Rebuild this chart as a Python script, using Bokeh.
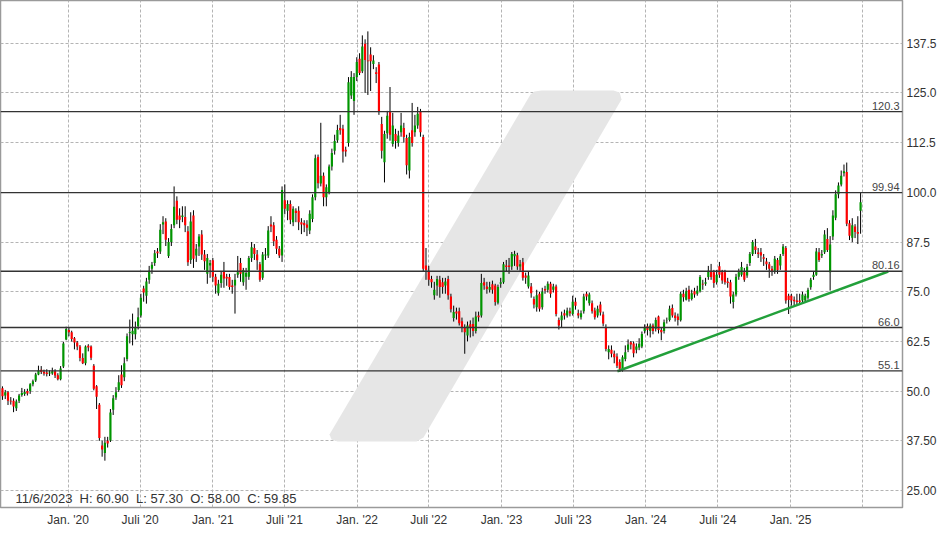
import pandas as pd
import numpy as np
from bokeh.plotting import figure
from bokeh.models import FixedTicker, Span, Label, PolyAnnotation, ColumnDataSource
from bokeh.embed import file_html
from bokeh.resources import INLINE

# ---------------- data (weekly candles) ----------------
first_week = "2019-07-19"

opens = [
    50.7, 48.9, 49.7, 47.6, 47.6, 45.7, 47.6, 49.0, 49.3, 50.0,
    50.0, 51.7, 52.7, 54.2, 55.4, 54.9, 54.7, 54.4, 54.4, 55.0,
    54.0, 53.0, 56.2, 63.0, 65.4, 64.8, 63.3, 62.2, 61.2, 58.3,
    57.0, 61.4, 61.2, 56.4, 51.2, 46.6, 36.3, 34.4, 37.5, 37.6,
    45.3, 48.4, 50.3, 54.2, 53.5, 58.1, 64.6, 64.3, 64.3, 66.3,
    69.0, 75.8, 74.0, 78.0,
    80.8, 82.2, 85.1, 85.1, 91.9, 92.7, 84.0, 87.5, 91.7, 97.9,
    94.2, 93.8, 93.8, 90.2, 83.0, 94.2, 84.1, 86.4, 89.4, 84.4,
    79.5, 81.6, 82.9, 78.8, 74.6, 77.2, 80.2, 78.8, 78.7, 76.6,
    76.6, 79.3, 82.2, 77.4, 78.8, 78.8, 83.5, 86.0, 84.4, 81.9,
    78.5, 84.1, 84.1, 91.9, 91.7, 88.1, 85.8, 84.1, 98.0, 95.4,
    97.1, 92.5, 95.4, 95.4,
    92.5, 92.3, 91.9, 90.4, 93.3, 98.8, 108.9, 102.2, 104.2, 98.8,
    100.1, 106.5, 110.5, 113.1, 116.2, 116.0, 110.7, 112.4, 124.4, 123.0,
    129.0, 133.6, 130.5, 137.4, 133.2, 134.7, 132.3, 130.2, 132.2, 117.2,
    107.6, 114.9, 120.3, 112.2, 114.7, 112.4, 115.1, 116.2, 113.7, 105.5,
    115.6, 115.1, 116.8, 120.2, 113.9, 81.6, 80.3, 78.2, 74.1, 76.6,
    78.0, 77.4, 76.6, 78.2, 73.8,
    68.4, 70.0, 70.1, 67.6, 65.9, 64.0, 66.8, 66.9, 65.1, 69.0,
    69.0, 77.4, 76.3, 75.5, 76.9, 76.6, 72.2, 77.0, 77.4, 81.6,
    81.6, 81.35, 83.9, 84.2, 81.35, 82.4, 79.1, 76.3, 76.3, 73.2,
    71.1, 74.5, 71.1, 75.7, 75.5, 77.0, 75.5, 76.3, 67.9, 67.8,
    69.6, 69.0, 70.1, 69.4, 72.5, 69.6, 68.6, 70.1, 74.5, 72.1,
    72.1, 70.3, 69.0, 71.8, 69.3, 66.1, 59.8,
    60.4, 59.4, 58.7, 57.3, 55.6, 58.1, 60.4, 62.3, 62.0, 60.4,
    61.0, 61.2, 65.1, 66.3, 65.1, 66.5, 65.7, 68.8, 65.4, 65.1,
    67.8, 67.9, 70.9, 69.0, 68.8, 67.8, 74.5, 73.0, 75.5, 73.2,
    75.1, 74.5, 75.1, 77.0, 77.0, 78.7, 80.3, 79.9, 77.4, 81.4,
    79.9, 79.9, 77.6, 77.4, 72.4, 74.3, 78.8, 79.3, 79.9, 79.1,
    82.2, 84.5, 86.4, 84.9,
    84.95, 83.7, 82.6, 81.9, 80.8, 80.3, 83.0, 81.6, 84.5, 86.0,
    74.0, 74.0, 73.0, 72.8, 72.8, 72.8, 72.8, 73.5, 76.1, 78.7,
    79.3, 84.95, 84.1, 84.95, 88.3, 79.9, 88.9, 93.6, 99.5, 102.0,
    104.8, 105.1, 92.2, 88.6, 91.4, 90.0, 95.4,
]

highs = [
    51.2, 50.3, 50.0, 48.5, 48.2, 47.9, 49.3, 50.8, 50.5, 50.6,
    52.0, 52.9, 54.6, 56.4, 56.3, 55.4, 55.5, 55.2, 55.9, 55.5,
    54.5, 56.3, 62.4, 66.2, 66.0, 65.2, 63.6, 62.6, 61.6, 59.5,
    61.5, 61.8, 61.5, 56.8, 51.5, 47.0, 37.5, 38.5, 38.5, 45.5,
    49.0, 51.0, 54.0, 56.5, 58.5, 64.5, 68.0, 69.5, 67.5, 71.0,
    74.5, 76.5, 78.5, 81.5,
    82.5, 85.5, 86.0, 92.0, 94.0, 93.5, 88.5, 92.0, 101.5, 99.0,
    96.0, 96.5, 96.5, 91.5, 95.0, 95.5, 87.0, 89.5, 90.5, 85.5,
    84.5, 83.0, 83.5, 79.5, 78.0, 80.0, 82.5, 79.5, 79.5, 78.0,
    79.5, 84.0, 83.5, 81.0, 81.0, 84.0, 87.5, 87.0, 85.5, 82.5,
    85.0, 86.0, 91.5, 94.0, 92.5, 89.0, 86.5, 101.5, 102.0, 98.0,
    98.0, 96.5, 96.0, 96.5,
    93.5, 93.0, 93.0, 95.5, 99.5, 109.5, 109.5, 117.5, 105.0, 102.0,
    107.0, 111.0, 114.5, 117.0, 119.5, 117.0, 111.5, 129.0, 130.5, 130.0,
    134.0, 135.0, 139.5, 138.5, 140.5, 136.5, 134.5, 131.5, 132.8, 119.0,
    115.5, 120.5, 126.5, 120.0, 116.0, 115.5, 120.0, 117.5, 114.5, 115.0,
    122.5, 119.5, 121.5, 121.0, 114.5, 86.0, 81.5, 79.0, 77.5, 79.0,
    79.0, 78.5, 78.5, 79.0, 74.5,
    71.5, 71.0, 71.0, 68.5, 66.8, 67.5, 67.8, 68.5, 70.0, 70.0,
    79.5, 78.5, 77.5, 77.5, 77.8, 77.0, 76.8, 78.5, 82.5, 83.0,
    83.5, 85.0, 85.3, 84.8, 83.0, 83.5, 79.8, 80.0, 77.2, 73.8,
    75.5, 75.0, 76.0, 76.5, 77.6, 77.5, 77.0, 76.8, 68.5, 70.0,
    70.5, 71.0, 71.0, 74.0, 73.5, 70.5, 70.3, 74.5, 75.0, 74.8,
    72.8, 71.0, 71.5, 72.5, 70.0, 66.8, 61.5,
    61.5, 60.2, 59.5, 58.0, 59.0, 61.5, 63.0, 62.6, 62.5, 62.0,
    63.3, 65.0, 66.8, 67.0, 67.0, 67.0, 68.5, 69.0, 66.0, 68.0,
    68.5, 71.5, 71.8, 69.8, 69.5, 75.0, 75.5, 76.0, 76.5, 75.5,
    76.0, 76.5, 79.2, 78.0, 78.5, 81.5, 82.0, 80.5, 80.5, 82.5,
    80.5, 80.5, 78.5, 78.0, 75.0, 79.5, 80.8, 82.5, 81.0, 82.0,
    85.0, 88.0, 88.3, 86.0,
    86.0, 84.5, 83.5, 82.5, 81.5, 84.0, 83.5, 84.5, 87.0, 86.5,
    74.5, 74.5, 73.8, 74.5, 74.5, 75.0, 74.5, 76.0, 78.5, 80.0,
    86.0, 86.0, 85.5, 90.5, 91.0, 89.0, 95.5, 100.5, 102.5, 105.5,
    107.0, 107.5, 93.0, 93.5, 92.0, 94.0, 100.0,
]

lows = [
    47.8, 48.0, 46.5, 46.6, 44.7, 45.0, 47.0, 48.6, 48.8, 48.9,
    49.3, 51.2, 52.3, 54.0, 54.3, 53.9, 53.7, 53.8, 54.1, 53.3,
    52.7, 52.7, 55.8, 62.8, 63.8, 62.5, 60.5, 60.3, 57.5, 56.8,
    56.5, 60.0, 57.8, 50.2, 45.5, 37.5, 33.5, 32.5, 35.8, 37.2,
    44.0, 47.8, 49.8, 50.8, 52.5, 57.5, 62.0, 61.5, 63.0, 65.5,
    68.5, 72.5, 72.0, 77.0,
    79.5, 81.5, 83.5, 84.5, 89.5, 86.5, 83.5, 86.5, 91.0, 92.0,
    91.0, 92.5, 90.0, 81.5, 82.0, 81.0, 82.5, 84.0, 83.0, 80.5,
    77.0, 78.5, 77.5, 74.5, 74.0, 76.0, 76.0, 76.5, 75.5, 74.5,
    69.5, 78.5, 77.5, 76.5, 75.5, 78.0, 82.5, 83.0, 80.5, 77.5,
    78.0, 83.0, 83.5, 90.0, 86.5, 84.5, 83.5, 82.5, 94.5, 93.0,
    92.0, 91.5, 92.5, 90.5,
    89.5, 90.0, 89.0, 89.5, 92.5, 98.0, 101.0, 101.5, 96.5, 96.5,
    99.5, 105.5, 109.5, 112.5, 114.5, 107.5, 109.0, 111.5, 123.5, 119.5,
    128.0, 129.5, 130.0, 125.0, 124.5, 125.5, 131.0, 127.5, 119.5, 108.5,
    102.5, 113.5, 113.0, 111.5, 111.0, 111.5, 114.0, 112.5, 104.5, 103.5,
    111.5, 114.0, 116.0, 114.0, 80.0, 78.0, 76.5, 76.0, 73.0, 74.0,
    73.5, 74.5, 74.5, 73.0, 69.8,
    67.5, 68.0, 66.5, 64.8, 59.4, 62.5, 63.5, 63.8, 64.5, 67.5,
    68.5, 75.5, 74.5, 74.8, 74.5, 71.5, 71.8, 76.0, 77.0, 80.0,
    79.5, 80.5, 81.5, 80.5, 80.3, 77.8, 77.0, 75.8, 73.5, 70.8,
    70.0, 70.0, 70.5, 74.5, 74.8, 73.5, 74.8, 68.8, 65.5, 66.0,
    68.0, 68.5, 68.8, 69.0, 70.5, 68.3, 68.0, 69.5, 72.8, 71.5,
    69.5, 68.0, 68.5, 69.0, 66.3, 60.0, 58.0,
    58.5, 57.0, 55.8, 54.8, 54.9, 57.5, 59.8, 60.5, 58.5, 59.5,
    60.3, 60.8, 64.5, 64.0, 63.5, 64.3, 65.0, 64.5, 62.8, 64.5,
    67.0, 67.5, 68.5, 67.5, 66.5, 67.5, 72.5, 72.8, 72.5, 72.8,
    73.5, 74.0, 74.8, 75.5, 76.5, 78.0, 78.0, 76.0, 76.8, 78.5,
    77.0, 76.8, 76.0, 72.0, 70.8, 73.8, 78.0, 78.8, 77.5, 78.5,
    81.5, 84.0, 84.5, 83.5,
    82.5, 81.5, 80.5, 78.5, 79.0, 79.5, 79.5, 80.5, 84.0, 72.0,
    69.4, 71.5, 71.5, 71.5, 71.8, 72.0, 72.5, 73.0, 75.5, 78.0,
    79.0, 82.5, 83.5, 84.5, 85.0, 75.3, 88.0, 93.0, 98.5, 101.5,
    104.0, 91.5, 88.0, 87.5, 88.5, 87.0, 89.6,
]

closes = [
    48.7, 49.7, 47.6, 47.4, 46.1, 47.4, 48.9, 49.5, 49.8, 49.4,
    51.7, 52.5, 54.2, 55.2, 54.8, 54.4, 54.3, 54.7, 55.0, 53.9,
    53.0, 55.7, 62.0, 65.6, 64.8, 63.1, 62.2, 61.2, 58.3, 57.0,
    61.2, 61.0, 58.4, 50.6, 48.6, 38.2, 35.3, 37.0, 36.8, 44.6,
    48.2, 49.7, 52.2, 51.5, 57.0, 63.8, 64.9, 65.2, 66.0, 68.6,
    73.5, 74.8, 77.6, 80.3,
    81.8, 84.7, 84.7, 90.6, 92.5, 88.1, 87.5, 90.8, 96.4, 93.1,
    93.1, 94.2, 91.7, 82.4, 92.7, 83.3, 85.8, 88.9, 84.4, 82.7,
    83.5, 82.2, 78.8, 76.6, 77.0, 79.3, 78.3, 78.3, 76.2, 76.2,
    78.0, 79.9, 79.5, 80.5, 79.7, 83.5, 86.2, 84.5, 82.9, 78.0,
    84.4, 84.4, 90.4, 91.4, 87.7, 85.8, 84.1, 100.6, 95.9, 97.1,
    93.1, 95.9, 94.8, 92.5,
    91.9, 91.7, 91.1, 94.6, 98.8, 108.6, 102.3, 104.2, 98.8, 101.3,
    106.5, 109.9, 112.9, 115.7, 115.6, 110.3, 110.3, 127.7, 129.0, 129.0,
    132.8, 130.0, 136.7, 133.3, 133.0, 133.0, 133.2, 129.8, 120.3, 110.5,
    114.7, 119.3, 114.5, 116.8, 112.9, 114.3, 116.8, 113.9, 106.8, 113.9,
    112.4, 116.8, 119.8, 115.1, 80.8, 80.5, 78.0, 77.4, 75.5, 78.2,
    76.2, 76.2, 77.6, 74.1, 70.6,
    69.9, 69.5, 67.1, 66.1, 64.8, 66.5, 65.9, 65.1, 68.8, 68.6,
    77.2, 76.6, 75.7, 76.2, 75.5, 72.4, 76.2, 77.4, 81.9, 81.2,
    81.2, 84.5, 84.5, 81.35, 81.9, 78.5, 78.5, 79.1, 74.6, 71.8,
    74.1, 70.7, 75.0, 75.3, 77.0, 74.5, 76.3, 69.4, 66.5, 69.0,
    69.0, 70.3, 69.6, 72.5, 71.5, 69.0, 69.6, 73.8, 73.8, 74.3,
    70.1, 68.6, 70.7, 69.8, 67.0, 60.6, 60.6,
    59.4, 58.5, 56.4, 55.6, 58.5, 59.8, 61.7, 61.7, 59.5, 61.2,
    61.9, 64.4, 65.9, 65.4, 66.5, 65.1, 67.9, 65.4, 64.8, 67.3,
    67.9, 70.7, 69.0, 68.4, 67.9, 74.5, 73.6, 75.1, 73.2, 74.6,
    74.3, 75.3, 78.7, 76.8, 77.4, 80.3, 78.7, 77.2, 79.3, 79.3,
    77.8, 77.4, 77.2, 73.8, 74.3, 78.8, 79.9, 81.2, 78.0, 81.3,
    84.5, 87.5, 85.5, 84.5,
    84.1, 83.3, 81.9, 80.8, 80.3, 83.3, 80.5, 83.9, 86.4, 72.8,
    72.9, 72.8, 72.6, 72.4, 72.4, 74.3, 74.0, 75.5, 78.0, 79.3,
    85.1, 83.0, 84.5, 89.4, 85.5, 86.9, 94.2, 99.5, 101.7, 104.2,
    105.3, 92.1, 89.1, 91.7, 90.0, 89.6, 97.5,
]

# support / resistance levels and their labels
levels = [120.3, 99.94, 80.16, 66.0, 55.1]
level_labels = ["120.3", "99.94", "80.16", "66.0", "55.1"]

# green trend line (two anchor points)
trend_dates = ["2023-10-21", "2025-09-05"]
trend_values = [55.0, 80.1]

# axis ticks
x_tick_dates = ["2020-01-01", "2020-07-01", "2021-01-01", "2021-07-01", "2022-01-01",
                "2022-07-01", "2023-01-01", "2023-07-01", "2024-01-01", "2024-07-01",
                "2025-01-01", "2025-07-01"]
x_tick_labels = ["Jan. '20", "Juli '20", "Jan. '21", "Juli '21", "Jan. '22", "Juli '22",
                 "Jan. '23", "Juli '23", "Jan. '24", "Juli '24", "Jan. '25", ""]
y_tick_values = [25.0, 37.5, 50.0, 62.5, 75.0, 87.5, 100.0, 112.5, 125.0, 137.5]
y_tick_labels = ["25.00", "37.50", "50.0", "62.5", "75.0", "87.5", "100.0", "112.5", "125.0", "137.5"]

info_parts = ["11/6/2023", "H: 60.90", "L: 57.30", "O: 58.00", "C: 59.85"]

# ---------------- build ----------------
assert len(opens) == len(highs) == len(lows) == len(closes)
base = pd.Timestamp("2020-01-01")
dates = pd.date_range(first_week, periods=len(opens), freq="7D")
xs = np.asarray((dates - base).days, dtype=float)

o = np.array(opens); c = np.array(closes)
src = ColumnDataSource(dict(
    x=xs, high=highs, low=lows,
    top=np.maximum(o, c), bottom=np.minimum(o, c),
    color=np.where(c >= o, "#009600", "#ff0000"),
))

x_start = (pd.Timestamp("2019-07-14") - base).days
x_end = (pd.Timestamp("2025-10-11") - base).days

FONT = "Liberation Sans"
FRAME_H = 507

p = figure(frame_width=902, frame_height=FRAME_H,
           x_range=(x_start, x_end), y_range=(20.72, 148.27),
           y_axis_location="right", toolbar_location=None,
           output_backend="svg", min_border_left=0, min_border_top=0,
           min_border_right=0, min_border_bottom=0)
p.background_fill_color = "white"
p.border_fill_color = "white"
p.outline_line_color = "#9a9a9a"
p.outline_line_width = 1.5

# watermark (screen coordinates, y measured up from the frame bottom)
wm_px_x = [541, 613, 619, 620, 621, 423, 416, 337, 331, 329, 530, 534]
wm_px_y = [90, 90, 92, 95, 99, 437, 441, 441, 439, 434, 94, 91]
p.add_layout(PolyAnnotation(xs=wm_px_x, ys=[FRAME_H - v for v in wm_px_y],
                            xs_units="screen", ys_units="screen",
                            fill_color="#e6e6e6", fill_alpha=1.0, line_color=None,
                            level="underlay"))

xticks = [int((pd.Timestamp(d) - base).days) for d in x_tick_dates]

for ax in (p.xaxis, p.yaxis):
    ax.axis_line_color = None
    ax.major_tick_line_color = None
    ax.minor_tick_line_color = None
    ax.major_tick_out = 0
    ax.major_tick_in = 0
    ax.major_label_text_font = FONT
    ax.major_label_text_font_size = "12px"
    ax.major_label_text_color = "#333333"
    ax.major_label_standoff = 5

p.xaxis.ticker = FixedTicker(ticks=xticks)
p.xaxis.major_label_overrides = {t: lab for t, lab in zip(xticks, x_tick_labels)}
p.yaxis.ticker = FixedTicker(ticks=y_tick_values)
p.yaxis.major_label_overrides = {v: lab for v, lab in zip(y_tick_values, y_tick_labels)}
p.yaxis.major_label_standoff = 4

p.xgrid.ticker = FixedTicker(ticks=xticks)
p.ygrid.ticker = FixedTicker(ticks=y_tick_values)
for g in (p.xgrid, p.ygrid):
    g.grid_line_color = "#b4b4b4"
    g.grid_line_dash = "3 2"
    g.grid_line_width = 1

# candles
p.segment(x0="x", y0="low", x1="x", y1="high", line_color="black", line_width=1, source=src)
p.vbar(x="x", width=5.5, top="top", bottom="bottom", fill_color="color", line_color=None, source=src)

# levels
for lv, lab in zip(levels, level_labels):
    p.add_layout(Span(location=lv, dimension="width", line_color="#333333", line_width=1.3))
    p.add_layout(Label(x=x_end, y=lv, text=lab, x_offset=-3, y_offset=2,
                       text_align="right", text_baseline="bottom",
                       text_font=FONT, text_font_size="11px", text_color="#444444"))

# trend line
trend_x = [(pd.Timestamp(d) - base).days for d in trend_dates]
p.line(trend_x, trend_values, line_color="#22a03a", line_width=2.5)

# info text (bottom-left of the frame)
info_text = "\u00a0 ".join(info_parts)
p.add_layout(Label(x=15, y=FRAME_H - 498, x_units="screen", y_units="screen", text=info_text,
                   text_baseline="middle", text_align="left",
                   text_font=FONT, text_font_size="13px", text_color="#333333"))

open("out.html", "w").write(file_html(p, INLINE))
